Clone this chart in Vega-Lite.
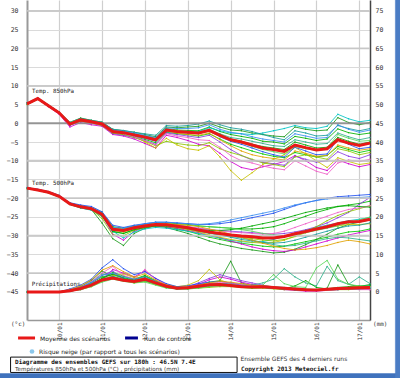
{
"$schema": "https://vega.github.io/schema/vega-lite/v6.json",
"autosize": {"type": "none"},
"padding": {"left": 27, "top": 0, "right": 30, "bottom": 58},
"width": 343,
"height": 320,
"background": "white",
"config": {"view": {"stroke": null}, "font": "DejaVu Sans"},
"datasets": {
"one": [{}],
"tens": [{"g":30},{"g":20},{"g":10},{"g":-10},{"g":-20},{"g":-30},{"g":-40}],
"zero": [{"g":0}],
"temp": [
{"v":"850","t":0,"mean":5.2,"a":5.3,"b":5.0,"c":5.4,"d":5.1,"e":5.2,"f":5.3,"g":5.2,"h":5.1,"i":5.3,"j":5.0,"k":5.2,"l":5.4,"m":5.2,"n":5.3,"o":5.1,"p":5.2},
{"v":"850","t":6,"mean":6.6,"a":6.7,"b":6.4,"c":6.6,"d":6.5,"e":6.6,"f":6.7,"g":6.6,"h":6.5,"i":6.6,"j":6.4,"k":6.7,"l":6.8,"m":6.5,"n":6.6,"o":6.5,"p":6.6},
{"v":"850","t":12,"mean":4.7,"a":4.8,"b":4.5,"c":4.9,"d":4.4,"e":4.6,"f":4.8,"g":4.7,"h":4.6,"i":4.7,"j":4.5,"k":4.8,"l":4.9,"m":4.6,"n":4.7,"o":4.6,"p":4.7},
{"v":"850","t":18,"mean":2.8,"a":2.9,"b":2.6,"c":3.0,"d":2.4,"e":2.7,"f":2.9,"g":2.8,"h":2.7,"i":2.9,"j":2.6,"k":2.8,"l":3.0,"m":2.7,"n":2.9,"o":2.7,"p":2.8},
{"v":"850","t":24,"mean":-0.2,"a":0.0,"b":-0.5,"c":0.2,"d":-1.0,"e":-0.6,"f":0.0,"g":0.0,"h":-0.3,"i":0.1,"j":-0.4,"k":-0.2,"l":0.3,"m":-0.1,"n":0.2,"o":-0.2,"p":-0.1},
{"v":"850","t":30,"mean":0.9,"a":1.2,"b":0.6,"c":1.4,"d":0.2,"e":0.6,"f":1.0,"g":1.0,"h":0.8,"i":1.1,"j":0.5,"k":0.8,"l":1.3,"m":0.9,"n":1.1,"o":0.8,"p":1.0},
{"v":"850","t":36,"mean":0.4,"a":0.6,"b":0.2,"c":0.8,"d":-0.4,"e":0.0,"f":0.5,"g":0.4,"h":0.3,"i":0.6,"j":0.1,"k":0.2,"l":0.8,"m":0.4,"n":0.5,"o":0.3,"p":0.5},
{"v":"850","t":42,"mean":-0.2,"a":0.1,"b":-0.5,"c":0.3,"d":-0.8,"e":-0.6,"f":0.0,"g":-0.2,"h":-0.3,"i":0.0,"j":-0.6,"k":-0.4,"l":0.3,"m":-0.1,"n":0.0,"o":-0.2,"p":0.1},
{"v":"850","t":48,"mean":-2.2,"a":-1.9,"b":-2.6,"c":-1.6,"d":-3.0,"e":-2.8,"f":-2.0,"g":-2.2,"h":-2.4,"i":-2.0,"j":-2.6,"k":-2.4,"l":-1.6,"m":-2.1,"n":-2.0,"o":-2.2,"p":-1.8},
{"v":"850","t":54,"mean":-2.5,"a":-2.2,"b":-3.0,"c":-2.0,"d":-3.4,"e":-3.2,"f":-2.4,"g":-2.6,"h":-2.8,"i":-2.3,"j":-3.0,"k":-2.8,"l":-1.9,"m":-2.5,"n":-2.4,"o":-2.6,"p":-2.1},
{"v":"850","t":60,"mean":-3.1,"a":-2.8,"b":-3.6,"c":-2.4,"d":-4.2,"e":-3.8,"f":-3.0,"g":-3.4,"h":-3.4,"i":-2.9,"j":-3.8,"k":-3.6,"l":-2.4,"m":-3.0,"n":-3.1,"o":-3.2,"p":-2.6},
{"v":"850","t":66,"mean":-3.7,"a":-3.4,"b":-4.3,"c":-3.0,"d":-5.4,"e":-4.6,"f":-3.6,"g":-5.0,"h":-4.0,"i":-3.5,"j":-4.8,"k":-4.6,"l":-2.8,"m":-3.6,"n":-3.8,"o":-3.8,"p":-3.2},
{"v":"850","t":72,"mean":-4.4,"a":-4.0,"b":-5.2,"c":-3.6,"d":-6.6,"e":-5.6,"f":-4.2,"g":-6.6,"h":-4.8,"i":-4.2,"j":-6.0,"k":-5.8,"l":-3.2,"m":-4.4,"n":-4.6,"o":-4.6,"p":-3.8},
{"v":"850","t":78,"mean":-1.8,"a":-1.4,"b":-2.4,"c":-1.0,"d":-3.2,"e":-2.6,"f":-1.6,"g":-4.0,"h":-2.2,"i":-1.6,"j":-4.8,"k":-2.8,"l":-0.6,"m":-1.8,"n":-1.6,"o":-2.0,"p":-1.2},
{"v":"850","t":84,"mean":-2.2,"a":-1.8,"b":-2.8,"c":-1.2,"d":-3.8,"e":-3.0,"f":-2.0,"g":-5.8,"h":-2.4,"i":-2.0,"j":-5.4,"k":-3.4,"l":-0.8,"m":-2.2,"n":-2.0,"o":-2.6,"p":-1.4},
{"v":"850","t":90,"mean":-2.4,"a":-1.9,"b":-3.0,"c":-1.0,"d":-4.6,"e":-3.4,"f":-2.2,"g":-6.8,"h":-2.6,"i":-2.2,"j":-5.8,"k":-3.8,"l":-0.6,"m":-2.4,"n":-2.2,"o":-3.0,"p":-1.4},
{"v":"850","t":96,"mean":-2.6,"a":-2.0,"b":-3.4,"c":-0.8,"d":-5.6,"e":-3.8,"f":-2.2,"g":-7.2,"h":-2.8,"i":-2.4,"j":-6.0,"k":-4.4,"l":-0.2,"m":-2.6,"n":-2.6,"o":-3.2,"p":-1.2},
{"v":"850","t":102,"mean":-1.9,"a":-1.0,"b":-2.8,"c":0.0,"d":-6.0,"e":-3.2,"f":-1.2,"g":-6.0,"h":-2.0,"i":-1.6,"j":-5.2,"k":-4.6,"l":0.6,"m":-1.8,"n":-2.2,"o":-2.6,"p":-0.4},
{"v":"850","t":108,"mean":-3.2,"a":-2.2,"b":-4.2,"c":-1.0,"d":-8.0,"e":-5.0,"f":-2.0,"g":-9.0,"h":-3.6,"i":-2.8,"j":-6.8,"k":-6.4,"l":-0.4,"m":-3.0,"n":-3.4,"o":-4.4,"p":-1.6},
{"v":"850","t":114,"mean":-4.4,"a":-3.0,"b":-5.6,"c":-1.8,"d":-10.2,"e":-7.0,"f":-2.6,"g":-12.6,"h":-4.8,"i":-3.8,"j":-7.8,"k":-8.6,"l":-1.2,"m":-4.2,"n":-4.4,"o":-6.0,"p":-2.4},
{"v":"850","t":120,"mean":-5.0,"a":-3.5,"b":-6.5,"c":-2.0,"d":-11.8,"e":-8.6,"f":-2.8,"g":-15.2,"h":-5.6,"i":-4.2,"j":-8.6,"k":-10.0,"l":-1.6,"m":-4.8,"n":-5.2,"o":-7.4,"p":-2.8},
{"v":"850","t":126,"mean":-5.8,"a":-4.0,"b":-7.4,"c":-2.6,"d":-12.4,"e":-9.8,"f":-3.0,"g":-13.2,"h":-6.6,"i":-4.8,"j":-9.6,"k":-10.6,"l":-2.2,"m":-5.6,"n":-6.2,"o":-8.4,"p":-3.6},
{"v":"850","t":132,"mean":-6.6,"a":-4.8,"b":-8.2,"c":-3.0,"d":-11.6,"e":-10.4,"f":-2.6,"g":-11.0,"h":-7.6,"i":-5.4,"j":-10.6,"k":-11.4,"l":-3.0,"m":-6.2,"n":-7.0,"o":-9.0,"p":-4.2},
{"v":"850","t":138,"mean":-7.0,"a":-5.0,"b":-8.8,"c":-3.4,"d":-11.0,"e":-10.8,"f":-2.0,"g":-9.6,"h":-8.4,"i":-6.0,"j":-11.0,"k":-12.0,"l":-3.8,"m":-6.6,"n":-7.6,"o":-9.4,"p":-4.6},
{"v":"850","t":144,"mean":-7.5,"a":-5.5,"b":-9.2,"c":-3.6,"d":-10.2,"e":-11.2,"f":-1.4,"g":-8.4,"h":-9.0,"i":-6.2,"j":-11.6,"k":-12.4,"l":-4.4,"m":-7.0,"n":-8.2,"o":-9.8,"p":-5.0},
{"v":"850","t":150,"mean":-5.8,"a":-3.5,"b":-7.8,"c":-1.0,"d":-8.6,"e":-8.8,"f":-0.6,"g":-6.4,"h":-6.4,"i":-4.4,"j":-9.0,"k":-10.0,"l":-2.0,"m":-5.0,"n":-6.2,"o":-7.4,"p":-2.8},
{"v":"850","t":156,"mean":-6.5,"a":-4.0,"b":-8.4,"c":-1.6,"d":-10.0,"e":-9.6,"f":-1.2,"g":-8.2,"h":-7.4,"i":-5.0,"j":-8.4,"k":-11.4,"l":-2.6,"m":-5.8,"n":-6.8,"o":-8.0,"p":-3.4},
{"v":"850","t":162,"mean":-7.1,"a":-4.6,"b":-9.0,"c":-2.0,"d":-11.8,"e":-10.4,"f":-1.4,"g":-10.0,"h":-8.4,"i":-5.6,"j":-9.0,"k":-12.8,"l":-3.4,"m":-6.6,"n":-7.2,"o":-8.8,"p":-4.0},
{"v":"850","t":168,"mean":-6.8,"a":-4.2,"b":-8.6,"c":-1.8,"d":-12.6,"e":-10.0,"f":-0.8,"g":-11.8,"h":-8.2,"i":-5.4,"j":-9.6,"k":-13.6,"l":-3.2,"m":-6.4,"n":-6.6,"o":-8.6,"p":-3.8},
{"v":"850","t":174,"mean":-4.4,"a":-1.5,"b":-6.2,"c":1.5,"d":-9.8,"e":-7.6,"f":2.4,"g":-9.2,"h":-4.2,"i":-2.6,"j":-6.8,"k":-10.6,"l":-0.6,"m":-3.8,"n":-3.0,"o":-5.8,"p":-0.4},
{"v":"850","t":180,"mean":-5.3,"a":-2.5,"b":-7.0,"c":0.2,"d":-10.8,"e":-8.8,"f":1.2,"g":-10.2,"h":-5.6,"i":-3.6,"j":-7.4,"k":-9.8,"l":-1.4,"m":-4.8,"n":-4.0,"o":-6.6,"p":-1.6},
{"v":"850","t":186,"mean":-5.9,"a":-3.0,"b":-7.8,"c":-0.4,"d":-11.6,"e":-9.4,"f":0.4,"g":-11.0,"h":-6.8,"i":-4.4,"j":-8.4,"k":-10.2,"l":-2.0,"m":-5.6,"n":-4.8,"o":-7.2,"p":-2.4},
{"v":"850","t":192,"mean":-5.3,"a":-2.6,"b":-7.2,"c":0.2,"d":-11.0,"e":-8.4,"f":0.8,"g":-10.6,"h":-6.4,"i":-3.8,"j":-7.8,"k":-9.6,"l":-1.4,"m":-5.0,"n":-4.6,"o":-6.8,"p":-1.8},
{"v":"500","t":0,"mean":-17.3,"a":-17.2,"b":-17.4,"c":-17.3,"d":-17.3,"e":-17.2,"f":-17.4,"g":-17.3,"h":-17.2,"i":-17.3,"j":-17.3,"k":-17.3,"l":-17.2,"m":-17.4,"n":-17.3,"o":-17.3,"p":-17.2},
{"v":"500","t":6,"mean":-17.8,"a":-17.7,"b":-17.9,"c":-17.8,"d":-17.8,"e":-17.7,"f":-17.9,"g":-17.8,"h":-17.6,"i":-17.8,"j":-17.8,"k":-17.8,"l":-17.7,"m":-17.9,"n":-17.8,"o":-17.8,"p":-17.7},
{"v":"500","t":12,"mean":-18.4,"a":-18.3,"b":-18.6,"c":-18.4,"d":-18.5,"e":-18.3,"f":-18.5,"g":-18.4,"h":-18.2,"i":-18.5,"j":-18.4,"k":-18.4,"l":-18.3,"m":-18.5,"n":-18.4,"o":-18.4,"p":-18.3},
{"v":"500","t":18,"mean":-19.5,"a":-19.3,"b":-19.7,"c":-19.6,"d":-19.6,"e":-19.4,"f":-19.6,"g":-19.5,"h":-19.2,"i":-19.6,"j":-19.5,"k":-19.5,"l":-19.4,"m":-19.6,"n":-19.5,"o":-19.5,"p":-19.4},
{"v":"500","t":24,"mean":-21.5,"a":-21.3,"b":-21.7,"c":-21.6,"d":-21.6,"e":-21.4,"f":-21.6,"g":-21.5,"h":-21.2,"i":-21.6,"j":-21.5,"k":-21.4,"l":-21.4,"m":-21.6,"n":-21.5,"o":-21.5,"p":-21.4},
{"v":"500","t":30,"mean":-22.3,"a":-22.0,"b":-22.6,"c":-22.4,"d":-22.4,"e":-22.2,"f":-22.6,"g":-22.3,"h":-21.8,"i":-22.4,"j":-22.4,"k":-22.2,"l":-22.2,"m":-22.4,"n":-22.2,"o":-22.3,"p":-22.1},
{"v":"500","t":36,"mean":-22.8,"a":-22.5,"b":-23.1,"c":-23.0,"d":-23.0,"e":-22.6,"f":-23.2,"g":-22.9,"h":-22.2,"i":-22.9,"j":-23.0,"k":-22.7,"l":-22.7,"m":-22.9,"n":-22.7,"o":-22.8,"p":-22.6},
{"v":"500","t":42,"mean":-24.3,"a":-23.8,"b":-24.8,"c":-26.6,"d":-24.6,"e":-24.0,"f":-24.8,"g":-24.4,"h":-23.6,"i":-24.4,"j":-25.4,"k":-24.1,"l":-24.2,"m":-24.6,"n":-24.0,"o":-24.2,"p":-23.9},
{"v":"500","t":48,"mean":-28.3,"a":-27.6,"b":-29.0,"c":-30.8,"d":-29.6,"e":-28.0,"f":-28.8,"g":-28.6,"h":-27.2,"i":-28.4,"j":-29.8,"k":-28.0,"l":-28.2,"m":-28.8,"n":-27.8,"o":-28.2,"p":-27.8},
{"v":"500","t":54,"mean":-28.6,"a":-28.0,"b":-29.4,"c":-32.6,"d":-31.2,"e":-28.4,"f":-30.6,"g":-29.0,"h":-27.8,"i":-28.8,"j":-30.0,"k":-28.3,"l":-28.6,"m":-29.4,"n":-28.2,"o":-28.4,"p":-28.0},
{"v":"500","t":60,"mean":-27.9,"a":-27.4,"b":-28.4,"c":-29.4,"d":-28.8,"e":-27.6,"f":-29.0,"g":-28.2,"h":-27.2,"i":-28.0,"j":-28.6,"k":-27.7,"l":-27.9,"m":-28.4,"n":-27.6,"o":-27.8,"p":-27.4},
{"v":"500","t":66,"mean":-27.4,"a":-27.0,"b":-27.8,"c":-28.0,"d":-27.8,"e":-27.0,"f":-28.2,"g":-27.6,"h":-26.8,"i":-27.6,"j":-27.8,"k":-27.2,"l":-27.4,"m":-27.8,"n":-27.2,"o":-27.2,"p":-26.8},
{"v":"500","t":72,"mean":-27.0,"a":-26.6,"b":-27.4,"c":-27.4,"d":-27.4,"e":-26.8,"f":-27.8,"g":-27.2,"h":-26.4,"i":-27.2,"j":-27.4,"k":-26.8,"l":-27.0,"m":-27.4,"n":-26.8,"o":-26.8,"p":-26.4},
{"v":"500","t":78,"mean":-27.1,"a":-26.6,"b":-27.6,"c":-27.8,"d":-27.6,"e":-26.8,"f":-28.0,"g":-27.4,"h":-26.4,"i":-27.4,"j":-27.4,"k":-26.9,"l":-27.2,"m":-27.4,"n":-26.8,"o":-26.8,"p":-26.4},
{"v":"500","t":84,"mean":-27.5,"a":-26.8,"b":-28.2,"c":-28.6,"d":-28.0,"e":-27.2,"f":-28.4,"g":-27.8,"h":-26.6,"i":-27.8,"j":-27.8,"k":-27.2,"l":-27.6,"m":-27.6,"n":-27.0,"o":-27.0,"p":-26.6},
{"v":"500","t":90,"mean":-27.9,"a":-27.0,"b":-28.8,"c":-29.4,"d":-28.6,"e":-27.6,"f":-28.8,"g":-28.4,"h":-26.8,"i":-28.2,"j":-28.2,"k":-27.6,"l":-28.0,"m":-28.0,"n":-27.2,"o":-27.2,"p":-26.8},
{"v":"500","t":96,"mean":-28.5,"a":-27.4,"b":-29.6,"c":-30.4,"d":-29.2,"e":-28.0,"f":-29.4,"g":-29.0,"h":-27.0,"i":-28.8,"j":-28.8,"k":-28.0,"l":-28.6,"m":-28.4,"n":-27.4,"o":-27.6,"p":-27.0},
{"v":"500","t":102,"mean":-29.0,"a":-27.6,"b":-30.4,"c":-31.4,"d":-30.0,"e":-28.4,"f":-30.0,"g":-29.8,"h":-27.0,"i":-29.4,"j":-29.2,"k":-28.4,"l":-29.2,"m":-28.6,"n":-27.6,"o":-28.2,"p":-26.8},
{"v":"500","t":108,"mean":-29.4,"a":-27.8,"b":-31.0,"c":-32.2,"d":-30.6,"e":-28.6,"f":-30.6,"g":-30.4,"h":-26.8,"i":-29.8,"j":-29.6,"k":-28.8,"l":-29.8,"m":-28.6,"n":-27.8,"o":-28.8,"p":-26.4},
{"v":"500","t":114,"mean":-29.8,"a":-28.0,"b":-31.6,"c":-32.8,"d":-31.4,"e":-28.8,"f":-31.2,"g":-31.0,"h":-26.4,"i":-30.2,"j":-30.0,"k":-29.0,"l":-30.4,"m":-28.4,"n":-28.0,"o":-29.6,"p":-25.8},
{"v":"500","t":120,"mean":-30.1,"a":-28.2,"b":-32.0,"c":-33.4,"d":-32.2,"e":-29.0,"f":-31.6,"g":-31.4,"h":-25.8,"i":-30.6,"j":-30.4,"k":-29.2,"l":-31.0,"m":-28.0,"n":-28.4,"o":-30.4,"p":-25.2},
{"v":"500","t":126,"mean":-30.3,"a":-28.2,"b":-32.4,"c":-33.8,"d":-33.0,"e":-29.2,"f":-31.8,"g":-31.8,"h":-25.2,"i":-31.2,"j":-30.8,"k":-29.4,"l":-31.4,"m":-27.4,"n":-28.8,"o":-31.2,"p":-24.6},
{"v":"500","t":132,"mean":-30.6,"a":-28.0,"b":-32.8,"c":-34.2,"d":-33.6,"e":-29.4,"f":-31.6,"g":-32.0,"h":-24.6,"i":-31.8,"j":-31.2,"k":-29.6,"l":-31.8,"m":-26.8,"n":-29.4,"o":-32.0,"p":-24.0},
{"v":"500","t":138,"mean":-30.6,"a":-27.6,"b":-33.0,"c":-34.6,"d":-34.0,"e":-29.6,"f":-31.0,"g":-31.8,"h":-24.0,"i":-32.4,"j":-31.4,"k":-29.4,"l":-32.0,"m":-26.2,"n":-29.8,"o":-32.8,"p":-23.4},
{"v":"500","t":144,"mean":-30.2,"a":-26.8,"b":-32.8,"c":-34.4,"d":-34.2,"e":-29.4,"f":-30.2,"g":-31.2,"h":-23.0,"i":-32.8,"j":-31.0,"k":-28.8,"l":-31.8,"m":-25.4,"n":-30.0,"o":-33.4,"p":-22.6},
{"v":"500","t":150,"mean":-29.5,"a":-25.8,"b":-32.2,"c":-33.6,"d":-33.8,"e":-29.0,"f":-29.4,"g":-30.2,"h":-22.0,"i":-32.6,"j":-30.2,"k":-27.8,"l":-31.2,"m":-24.6,"n":-29.8,"o":-33.8,"p":-21.8},
{"v":"500","t":156,"mean":-28.9,"a":-24.8,"b":-31.6,"c":-32.4,"d":-33.0,"e":-28.4,"f":-28.6,"g":-29.2,"h":-21.2,"i":-32.0,"j":-29.0,"k":-26.8,"l":-30.4,"m":-23.8,"n":-29.2,"o":-33.6,"p":-21.2},
{"v":"500","t":162,"mean":-28.2,"a":-23.8,"b":-31.0,"c":-31.0,"d":-32.2,"e":-27.6,"f":-27.8,"g":-28.4,"h":-20.6,"i":-31.4,"j":-27.6,"k":-25.8,"l":-29.6,"m":-23.2,"n":-28.6,"o":-33.2,"p":-20.6},
{"v":"500","t":168,"mean":-27.6,"a":-23.0,"b":-30.4,"c":-29.6,"d":-31.4,"e":-26.6,"f":-27.2,"g":-27.8,"h":-20.0,"i":-30.8,"j":-26.0,"k":-24.8,"l":-28.8,"m":-22.6,"n":-28.0,"o":-32.6,"p":-20.2},
{"v":"500","t":174,"mean":-26.8,"a":-22.2,"b":-29.6,"c":-28.0,"d":-30.6,"e":-25.2,"f":-26.6,"g":-27.4,"h":-19.6,"i":-30.4,"j":-24.6,"k":-23.8,"l":-28.0,"m":-22.2,"n":-27.4,"o":-31.8,"p":-20.0},
{"v":"500","t":180,"mean":-26.3,"a":-21.8,"b":-29.0,"c":-27.0,"d":-29.8,"e":-23.8,"f":-26.0,"g":-27.0,"h":-19.4,"i":-30.6,"j":-23.6,"k":-23.0,"l":-27.4,"m":-22.0,"n":-26.6,"o":-31.2,"p":-19.8},
{"v":"500","t":186,"mean":-26.2,"a":-21.4,"b":-28.8,"c":-26.4,"d":-29.2,"e":-21.6,"f":-25.6,"g":-27.0,"h":-19.2,"i":-31.0,"j":-22.8,"k":-22.6,"l":-27.2,"m":-22.2,"n":-25.8,"o":-31.6,"p":-19.8},
{"v":"500","t":192,"mean":-25.6,"a":-20.8,"b":-28.2,"c":-25.8,"d":-28.6,"e":-19.8,"f":-25.2,"g":-26.8,"h":-19.0,"i":-31.4,"j":-22.0,"k":-22.0,"l":-26.6,"m":-22.4,"n":-25.0,"o":-32.2,"p":-19.6}
],
"pr": [
{"t":0,"mean":0,"a":0,"b":0,"c":0,"d":0,"e":0,"f":0,"g":0,"h":0,"i":0,"j":0,"k":0,"l":0,"m":0,"n":0,"o":0,"p":0},
{"t":6,"mean":0,"a":0,"b":0,"c":0,"d":0,"e":0,"f":0,"g":0,"h":0,"i":0,"j":0,"k":0,"l":0,"m":0,"n":0,"o":0,"p":0},
{"t":12,"mean":0,"a":0,"b":0,"c":0,"d":0,"e":0,"f":0,"g":0,"h":0,"i":0,"j":0,"k":0,"l":0,"m":0,"n":0,"o":0,"p":0},
{"t":18,"mean":0,"a":0,"b":0,"c":0,"d":0,"e":0,"f":0,"g":0,"h":0,"i":0,"j":0,"k":0,"l":0,"m":0,"n":0,"o":0,"p":0},
{"t":24,"mean":0.3,"a":0.4,"b":0.2,"c":0.4,"d":0.2,"e":0.2,"f":0.6,"g":0.2,"h":0.8,"i":0.4,"j":0.2,"k":0.4,"l":0.2,"m":0.4,"n":0.2,"o":0.6,"p":0.4},
{"t":30,"mean":0.9,"a":1.2,"b":0.8,"c":1.4,"d":0.6,"e":1.0,"f":1.4,"g":0.8,"h":1.8,"i":1.0,"j":0.6,"k":1.2,"l":0.8,"m":1.0,"n":0.6,"o":1.6,"p":1.2},
{"t":36,"mean":1.8,"a":2.4,"b":2.0,"c":3.0,"d":1.6,"e":2.2,"f":2.2,"g":1.8,"h":3.4,"i":2.6,"j":1.4,"k":2.8,"l":1.8,"m":2.0,"n":1.4,"o":3.2,"p":2.6},
{"t":42,"mean":3.2,"a":4.0,"b":3.6,"c":5.6,"d":3.0,"e":4.4,"f":3.4,"g":3.2,"h":6.4,"i":4.8,"j":2.8,"k":5.0,"l":3.2,"m":3.6,"n":2.6,"o":5.8,"p":4.4},
{"t":48,"mean":3.7,"a":4.6,"b":5.2,"c":4.0,"d":6.0,"e":5.6,"f":4.2,"g":4.4,"h":8.6,"i":4.2,"j":3.6,"k":6.8,"l":4.0,"m":4.8,"n":3.4,"o":7.0,"p":5.0},
{"t":54,"mean":3.1,"a":3.6,"b":4.2,"c":3.0,"d":5.0,"e":3.4,"f":3.0,"g":4.8,"h":6.2,"i":3.4,"j":3.0,"k":4.4,"l":3.2,"m":3.8,"n":2.8,"o":5.4,"p":4.0},
{"t":60,"mean":2.8,"a":3.0,"b":3.4,"c":2.6,"d":4.0,"e":2.8,"f":2.6,"g":3.8,"h":4.6,"i":3.0,"j":2.4,"k":3.4,"l":2.8,"m":3.2,"n":2.4,"o":4.0,"p":3.4},
{"t":66,"mean":3.4,"a":3.8,"b":4.4,"c":3.0,"d":5.6,"e":3.6,"f":3.2,"g":3.6,"h":5.4,"i":3.2,"j":2.8,"k":6.0,"l":3.0,"m":4.2,"n":2.6,"o":4.8,"p":4.0},
{"t":72,"mean":2.4,"a":2.6,"b":3.0,"c":2.0,"d":3.6,"e":2.4,"f":2.2,"g":2.6,"h":3.6,"i":2.4,"j":2.0,"k":3.2,"l":2.2,"m":2.8,"n":1.8,"o":3.2,"p":2.8},
{"t":78,"mean":1.5,"a":1.6,"b":1.8,"c":1.2,"d":2.0,"e":1.4,"f":1.2,"g":2.0,"h":2.2,"i":1.4,"j":1.2,"k":1.8,"l":1.4,"m":1.6,"n":1.0,"o":1.8,"p":1.6},
{"t":84,"mean":1.0,"a":1.0,"b":1.2,"c":0.8,"d":1.2,"e":0.8,"f":0.8,"g":1.4,"h":1.4,"i":1.0,"j":0.8,"k":1.0,"l":0.8,"m":1.0,"n":0.8,"o":1.2,"p":1.0},
{"t":90,"mean":1.1,"a":1.2,"b":1.0,"c":1.0,"d":1.4,"e":1.4,"f":1.0,"g":1.8,"h":1.6,"i":1.0,"j":0.8,"k":1.2,"l":0.8,"m":1.2,"n":0.8,"o":1.4,"p":1.2},
{"t":96,"mean":1.5,"a":1.6,"b":1.4,"c":1.8,"d":2.0,"e":2.4,"f":1.2,"g":3.0,"h":2.2,"i":1.4,"j":1.0,"k":1.6,"l":1.2,"m":1.4,"n":1.0,"o":1.8,"p":1.6},
{"t":102,"mean":1.9,"a":2.0,"b":1.6,"c":2.6,"d":3.2,"e":3.6,"f":1.6,"g":6.0,"h":2.6,"i":1.8,"j":1.2,"k":2.2,"l":1.6,"m":1.8,"n":1.4,"o":2.4,"p":2.0},
{"t":108,"mean":2.0,"a":2.2,"b":1.8,"c":3.0,"d":4.0,"e":4.6,"f":2.0,"g":3.2,"h":2.8,"i":2.0,"j":1.4,"k":2.6,"l":1.8,"m":2.0,"n":1.6,"o":2.8,"p":2.2},
{"t":114,"mean":1.7,"a":1.8,"b":1.6,"c":8.2,"d":3.4,"e":3.8,"f":2.4,"g":2.2,"h":2.4,"i":1.8,"j":1.4,"k":2.4,"l":1.6,"m":1.8,"n":1.6,"o":2.6,"p":2.0},
{"t":120,"mean":1.4,"a":1.4,"b":1.2,"c":2.4,"d":2.6,"e":3.0,"f":2.0,"g":1.6,"h":1.8,"i":1.6,"j":1.2,"k":2.0,"l":1.4,"m":1.6,"n":1.4,"o":2.2,"p":1.6},
{"t":126,"mean":1.3,"a":1.2,"b":1.0,"c":1.6,"d":2.0,"e":2.4,"f":1.8,"g":1.4,"h":1.6,"i":1.8,"j":1.0,"k":1.6,"l":1.2,"m":1.4,"n":1.4,"o":1.8,"p":1.4},
{"t":132,"mean":1.4,"a":1.4,"b":1.2,"c":1.4,"d":1.6,"e":1.8,"f":1.6,"g":1.2,"h":1.4,"i":2.4,"j":1.0,"k":1.4,"l":1.2,"m":1.2,"n":1.8,"o":1.6,"p":1.2},
{"t":138,"mean":1.2,"a":1.0,"b":1.0,"c":1.0,"d":1.0,"e":1.2,"f":1.4,"g":1.0,"h":1.2,"i":3.4,"j":0.8,"k":1.2,"l":1.0,"m":1.0,"n":4.6,"o":1.4,"p":1.0},
{"t":144,"mean":1.0,"a":0.8,"b":0.8,"c":0.8,"d":0.6,"e":0.8,"f":1.2,"g":0.8,"h":1.0,"i":6.2,"j":0.6,"k":1.0,"l":0.8,"m":0.8,"n":2.2,"o":1.0,"p":0.8},
{"t":150,"mean":0.8,"a":0.6,"b":0.6,"c":0.6,"d":0.4,"e":0.6,"f":1.0,"g":0.6,"h":0.8,"i":4.0,"j":0.6,"k":0.8,"l":0.6,"m":1.6,"n":1.4,"o":0.8,"p":0.6},
{"t":156,"mean":0.6,"a":0.4,"b":0.6,"c":0.4,"d":0.2,"e":0.4,"f":0.8,"g":0.4,"h":0.6,"i":2.4,"j":0.4,"k":0.6,"l":0.6,"m":3.0,"n":1.2,"o":0.8,"p":0.6},
{"t":162,"mean":0.5,"a":0.4,"b":0.4,"c":0.4,"d":0.2,"e":0.4,"f":0.6,"g":0.4,"h":0.6,"i":1.6,"j":0.4,"k":0.4,"l":0.4,"m":1.2,"n":6.4,"o":0.6,"p":0.6},
{"t":168,"mean":0.7,"a":0.6,"b":0.6,"c":1.0,"d":0.4,"e":0.6,"f":0.8,"g":0.6,"h":0.8,"i":6.8,"j":0.4,"k":0.4,"l":0.6,"m":0.8,"n":8.4,"o":0.8,"p":0.8},
{"t":174,"mean":0.9,"a":0.8,"b":0.8,"c":7.2,"d":0.6,"e":0.8,"f":1.0,"g":0.8,"h":1.0,"i":3.0,"j":0.6,"k":0.6,"l":0.6,"m":1.2,"n":3.4,"o":1.0,"p":1.0},
{"t":180,"mean":1.0,"a":1.0,"b":0.8,"c":2.0,"d":0.8,"e":1.0,"f":1.2,"g":1.0,"h":1.2,"i":2.0,"j":0.6,"k":0.8,"l":0.8,"m":1.4,"n":2.0,"o":1.2,"p":1.0},
{"t":186,"mean":1.1,"a":1.2,"b":1.0,"c":1.4,"d":0.8,"e":1.2,"f":1.4,"g":1.0,"h":1.2,"i":4.0,"j":0.8,"k":0.6,"l":0.8,"m":1.6,"n":1.6,"o":1.4,"p":1.2},
{"t":192,"mean":1.2,"a":1.2,"b":1.0,"c":2.0,"d":0.6,"e":1.0,"f":1.6,"g":1.2,"h":1.4,"i":2.2,"j":0.8,"k":0.6,"l":1.0,"m":1.6,"n":1.4,"o":1.4,"p":1.2}
]
},
"layer": [
{
"layer": [
{
"data": {"name": "temp"},
"transform": [{"fold": ["a","b","c","d","e","f","g","h","i","j","k","l","m","n","o","p"], "as": ["m", "y"]}],
"mark": {"type": "line", "strokeWidth": 0.85, "point": {"size": 2, "filled": true}},
"encoding": {
"x": {"field": "t", "type": "quantitative", "scale": {"domain": [0, 192], "nice": false, "zero": false},
"axis": {"orient": "bottom", "title": null, "values": [18,42,66,90,114,138,162,186], "tickCount": 100,
"labelExpr": "['10/01','11/01','12/01','13/01','14/01','15/01','16/01','17/01'][round((datum.value-18)/24)]",
"labelAngle": 270, "labelAlign": "right", "labelBaseline": "middle", "labelFont": "DejaVu Sans Mono", "labelFontSize": 6, "labelColor": "#333", "labelPadding": 2, "labelOverlap": false, "labelFlush": false,
"ticks": false, "domainColor": "#999", "domainWidth": 1.5, "grid": true, "gridColor": "#cfcfcf", "gridWidth": 1.2}},
"y": {"field": "y", "type": "quantitative", "scale": {"domain": [-52.5, 32.9], "nice": false, "zero": false},
"axis": {"orient": "left", "title": null, "values": [30,25,20,15,10,5,0,-5,-10,-15,-20,-25,-30,-35,-40,-45], "tickCount": 100,
"labelFont": "DejaVu Sans Mono", "labelFontSize": 6.5, "labelColor": "#333", "labelPadding": 9, "labelOverlap": false, "labelFlush": false, "ticks": false,
"domainColor": "#999", "domainWidth": 2, "grid": true, "gridColor": "#dadada", "gridWidth": 1}},
"color": {"field": "m", "type": "nominal", "legend": null,
"scale": {"domain": ["a","b","c","d","e","f","g","h","i","j","k","l","m","n","o","p"],
"range": ["#00b000","#00c800","#1a9a1a","#d000d0","#8a3ce0","#00c4c4","#c8c000","#2050f0","#2fb08a","#8cc800","#f060c8","#169c9c","#00a800","#5ad85a","#e0a000","#3a8ef0"]}},
"detail": {"field": "v", "type": "nominal"}
}
},
{
"data": {"name": "tens"},
"mark": {"type": "rule", "strokeWidth": 1.8, "color": "#c4c4c4", "opacity": 0.9},
"encoding": {"y": {"field": "g", "type": "quantitative", "axis": {"title": null, "tickCount": 100}}}
},
{
"data": {"name": "zero"},
"mark": {"type": "rule", "strokeWidth": 2, "color": "#8c8c8c", "opacity": 0.9},
"encoding": {"y": {"field": "g", "type": "quantitative", "axis": {"title": null, "tickCount": 100}}}
},
{
"data": {"name": "temp"},
"mark": {"type": "line", "color": "#e81818", "strokeWidth": 3},
"encoding": {
"x": {"field": "t", "type": "quantitative"},
"y": {"field": "mean", "type": "quantitative", "axis": {"title": null, "tickCount": 100}},
"detail": {"field": "v", "type": "nominal"}
}
},
{"data": {"name": "one"}, "mark": {"type": "text", "text": "Temp. 850hPa", "align": "left", "baseline": "middle", "font": "DejaVu Sans Mono", "fontSize": 5.8, "color": "#222"},
"encoding": {"x": {"datum": 2.8}, "y": {"datum": 8.7}}},
{"data": {"name": "one"}, "mark": {"type": "text", "text": "Temp. 500hPa", "align": "left", "baseline": "middle", "font": "DejaVu Sans Mono", "fontSize": 5.8, "color": "#222"},
"encoding": {"x": {"datum": 2.8}, "y": {"datum": -16.0}}},
{"data": {"name": "one"}, "mark": {"type": "text", "text": "Précipitations", "align": "left", "baseline": "middle", "font": "DejaVu Sans Mono", "fontSize": 5.8, "color": "#222"},
"encoding": {"x": {"datum": 2.6}, "y": {"datum": -43.0}}},
{"data": {"name": "one"}, "mark": {"type": "text", "text": "(°c)", "align": "left", "baseline": "middle", "font": "DejaVu Sans Mono", "fontSize": 6, "color": "#333"},
"encoding": {"x": {"datum": -9.0}, "y": {"datum": -53.6}}},
{"data": {"name": "one"}, "mark": {"type": "text", "text": "(mm)", "align": "left", "baseline": "middle", "font": "DejaVu Sans Mono", "fontSize": 6, "color": "#333"},
"encoding": {"x": {"datum": 193.7}, "y": {"datum": -53.6}}},
{"data": {"name": "one"}, "mark": {"type": "rule", "color": "#e81818", "strokeWidth": 3},
"encoding": {"x": {"datum": -5.0}, "x2": {"datum": 4.5}, "y": {"datum": -57.3}}},
{"data": {"name": "one"}, "mark": {"type": "text", "text": "Moyenne des scénarios", "align": "left", "baseline": "middle", "fontSize": 6, "color": "#222"},
"encoding": {"x": {"datum": 7.3}, "y": {"datum": -57.6}}},
{"data": {"name": "one"}, "mark": {"type": "rule", "color": "#000090", "strokeWidth": 3},
"encoding": {"x": {"datum": 54.9}, "x2": {"datum": 62.1}, "y": {"datum": -57.3}}},
{"data": {"name": "one"}, "mark": {"type": "text", "text": "Run de contrôle", "align": "left", "baseline": "middle", "fontSize": 6, "color": "#222"},
"encoding": {"x": {"datum": 65.5}, "y": {"datum": -57.6}}},
{"data": {"name": "one"}, "mark": {"type": "circle", "color": "#8cc8ec", "size": 22, "opacity": 1},
"encoding": {"x": {"datum": 2.8}, "y": {"datum": -60.9}}},
{"data": {"name": "one"}, "mark": {"type": "text", "text": "Risque neige (par rapport a tous les scénarios)", "align": "left", "baseline": "middle", "fontSize": 6, "color": "#222"},
"encoding": {"x": {"datum": 6.7}, "y": {"datum": -61.0}}},
{"data": {"name": "one"}, "mark": {"type": "rect", "fill": "white", "stroke": "#111", "strokeWidth": 1},
"encoding": {"x": {"datum": -9.2}, "x2": {"datum": 117.6}, "y": {"datum": -62.4}, "y2": {"datum": -66.5}}},
{"data": {"name": "one"}, "mark": {"type": "text", "text": "Diagramme des ensembles GEFS sur 180h : 46.5N 7.4E", "align": "left", "baseline": "middle", "font": "DejaVu Sans Mono", "fontWeight": "bold", "fontSize": 6, "color": "#111"},
"encoding": {"x": {"datum": -6.7}, "y": {"datum": -63.8}}},
{"data": {"name": "one"}, "mark": {"type": "text", "text": "Températures 850hPa et 500hPa (°C) , précipitations (mm)", "align": "left", "baseline": "middle", "fontSize": 5.6, "color": "#333"},
"encoding": {"x": {"datum": -6.7}, "y": {"datum": -65.6}}},
{"data": {"name": "one"}, "mark": {"type": "text", "text": "Ensemble GEFS des 4 derniers runs", "align": "left", "baseline": "middle", "fontSize": 6, "color": "#333"},
"encoding": {"x": {"datum": 119.5}, "y": {"datum": -62.9}}},
{"data": {"name": "one"}, "mark": {"type": "text", "text": "Copyright 2013 Meteociel.fr", "align": "left", "baseline": "middle", "font": "DejaVu Sans Mono", "fontWeight": "bold", "fontSize": 6, "color": "#111"},
"encoding": {"x": {"datum": 119.8}, "y": {"datum": -65.7}}},
{"data": {"name": "one"}, "mark": {"type": "rect", "fill": "#3f72bd", "stroke": "#3f72bd", "strokeWidth": 0.5},
"encoding": {"x": {"datum": -20}, "x2": {"datum": 215}, "y": {"datum": -66.8}, "y2": {"datum": -71}}},
{"data": {"name": "one"}, "mark": {"type": "rect", "fill": "#4a7cc4", "stroke": "#4a7cc4", "strokeWidth": 0.5},
"encoding": {"x": {"datum": 206.2}, "x2": {"datum": 215}, "y": {"datum": 34}, "y2": {"datum": -71}}}
]
},
{
"layer": [
{
"data": {"name": "pr"},
"transform": [{"fold": ["a","b","c","d","e","f","g","h","i","j","k","l","m","n","o","p"], "as": ["m", "y"]}],
"mark": {"type": "line", "strokeWidth": 0.85, "point": {"size": 2, "filled": true}},
"encoding": {
"x": {"field": "t", "type": "quantitative"},
"y": {"field": "y", "type": "quantitative", "scale": {"domain": [-7.5, 77.9], "nice": false, "zero": false},
"axis": {"orient": "right", "title": null, "values": [0,5,10,15,20,25,30,35,40,45,50,55,60,65,70,75], "tickCount": 100,
"labelFont": "DejaVu Sans Mono", "labelFontSize": 6.5, "labelColor": "#333", "labelPadding": 5, "labelOverlap": false, "labelFlush": false, "ticks": false,
"domainColor": "#444", "domainWidth": 1.5, "grid": false}},
"color": {"field": "m", "type": "nominal", "legend": null}
}
},
{
"data": {"name": "pr"},
"mark": {"type": "line", "color": "#e81818", "strokeWidth": 3},
"encoding": {
"x": {"field": "t", "type": "quantitative"},
"y": {"field": "mean", "type": "quantitative", "axis": {"title": null, "tickCount": 100}}
}
}
]
}
],
"resolve": {"scale": {"y": "independent"}, "axis": {"y": "independent"}}
}
